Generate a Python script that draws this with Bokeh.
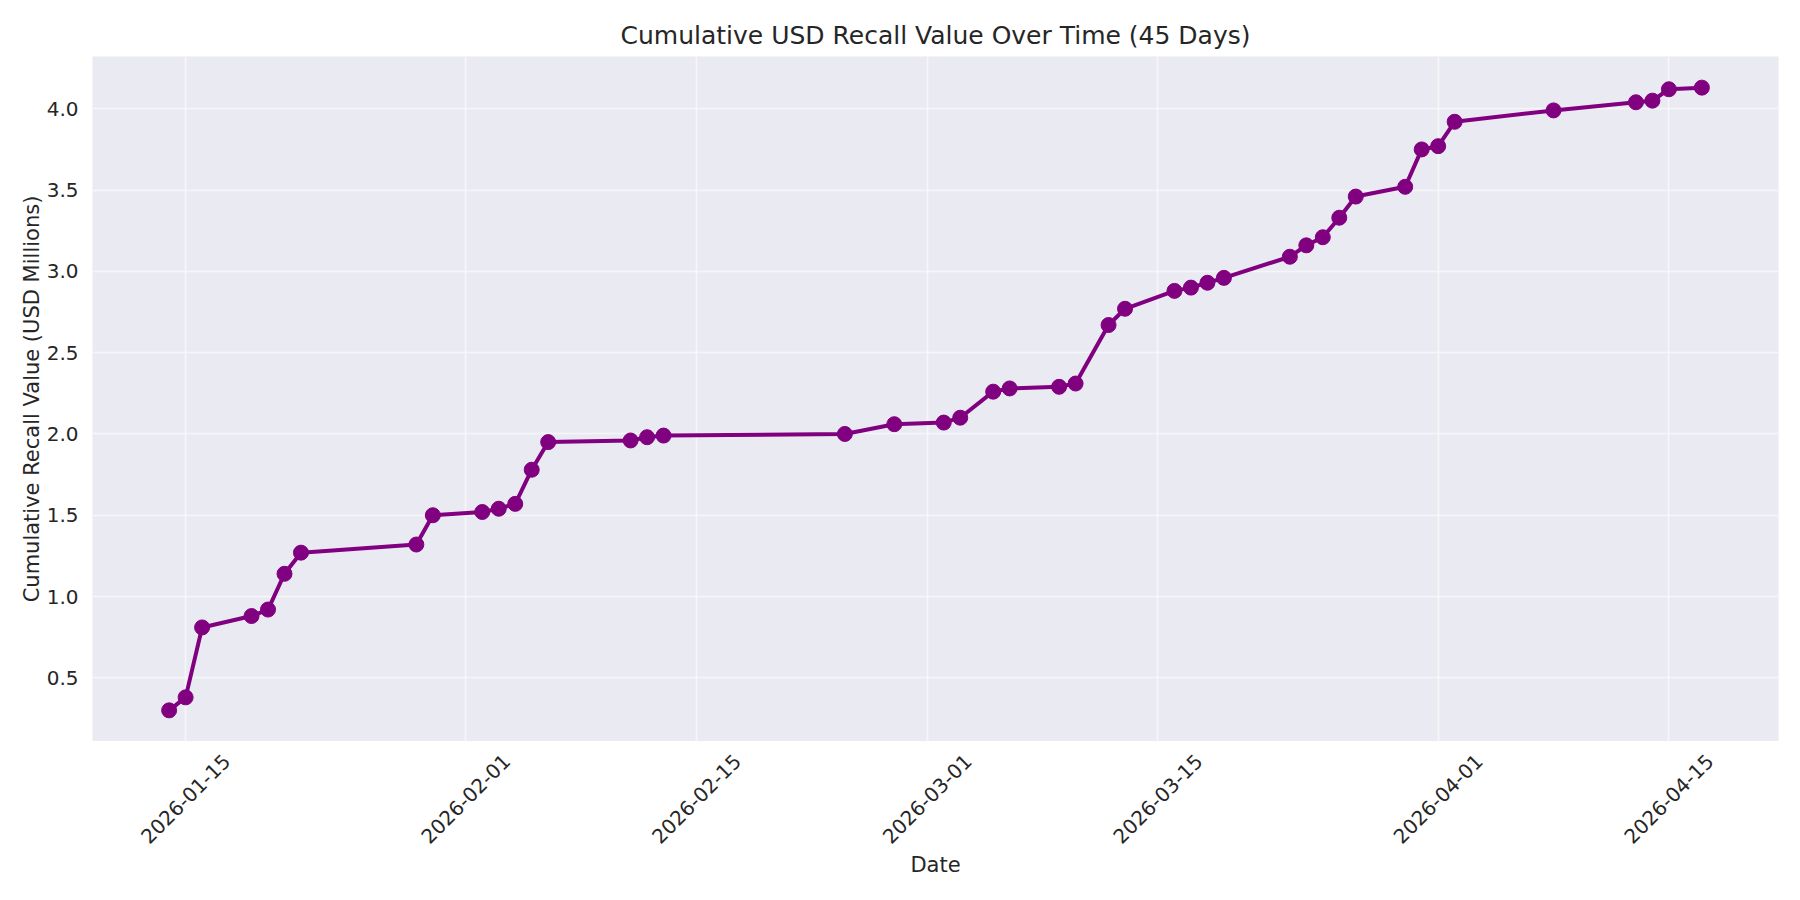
import math
from datetime import datetime
from bokeh.plotting import figure
from bokeh.layouts import column
from bokeh.models import (FixedTicker, Range1d, ColumnDataSource, NumeralTickFormatter)
from bokeh.core.properties import value
from bokeh.embed import file_html
from bokeh.resources import INLINE

# ---- data ----
dates = [
    "2026-01-14", "2026-01-15", "2026-01-16", "2026-01-19", "2026-01-20",
    "2026-01-21", "2026-01-22", "2026-01-29", "2026-01-30", "2026-02-02",
    "2026-02-03", "2026-02-04", "2026-02-05", "2026-02-06", "2026-02-11",
    "2026-02-12", "2026-02-13", "2026-02-24", "2026-02-27", "2026-03-02",
    "2026-03-03", "2026-03-05", "2026-03-06", "2026-03-09", "2026-03-10",
    "2026-03-12", "2026-03-13", "2026-03-16", "2026-03-17", "2026-03-18",
    "2026-03-19", "2026-03-23", "2026-03-24", "2026-03-25", "2026-03-26",
    "2026-03-27", "2026-03-30", "2026-03-31", "2026-04-01", "2026-04-02",
    "2026-04-08", "2026-04-13", "2026-04-14", "2026-04-15", "2026-04-17",
]
cumulative_musd = [
    0.30, 0.38, 0.81, 0.88, 0.92,
    1.14, 1.27, 1.32, 1.50, 1.52,
    1.54, 1.57, 1.78, 1.95, 1.96,
    1.98, 1.99, 2.00, 2.06, 2.07,
    2.10, 2.26, 2.28, 2.29, 2.31,
    2.67, 2.77, 2.88, 2.90, 2.93,
    2.96, 3.09, 3.16, 3.21, 3.33,
    3.46, 3.52, 3.75, 3.77, 3.92,
    3.99, 4.04, 4.05, 4.12, 4.13,
]
x_tick_labels = ["2026-01-15", "2026-02-01", "2026-02-15", "2026-03-01",
                 "2026-03-15", "2026-04-01", "2026-04-15"]
y_ticks = [0.5, 1.0, 1.5, 2.0, 2.5, 3.0, 3.5, 4.0]

title_text = "Cumulative USD Recall Value Over Time (45 Days)"
x_label = "Date"
y_label = "Cumulative Recall Value (USD Millions)"

# ---- build ----
EPOCH = datetime(1970, 1, 1)


def to_ms(s):
    return (datetime.strptime(s, "%Y-%m-%d") - EPOCH).total_seconds() * 1000.0


xs = [to_ms(d) for d in dates]
src = ColumnDataSource(dict(x=xs, y=cumulative_musd))

x_min, x_max = min(xs), max(xs)
x_pad = (x_max - x_min) * 0.05
y_min, y_max = min(cumulative_musd), max(cumulative_musd)
y_pad = (y_max - y_min) * 0.05
x_lo, x_hi = x_min - x_pad, x_max + x_pad
y_lo, y_hi = y_min - y_pad, y_max + y_pad

FONT = "DejaVu Sans"
TXT = "#262626"
PURPLE = "#800080"

W = 1784
TOP_H = 741
BOTTOM_H = 143

x_range = Range1d(x_lo, x_hi)

p = figure(
    width=W, height=TOP_H,
    x_range=x_range,
    y_range=Range1d(y_lo, y_hi),
    output_backend="svg", toolbar_location=None,
    min_border_left=92, min_border_right=6, min_border_top=56, min_border_bottom=0,
)

p.title.text = title_text
p.title.align = "center"
p.title.text_font = FONT
p.title.text_font_size = "25px"
p.title.text_font_style = "normal"
p.title.text_color = TXT
p.title.standoff = 14

p.background_fill_color = "#EAEAF2"
p.border_fill_color = "white"
p.outline_line_color = None

tick_ms = [to_ms(t) for t in x_tick_labels]

# y axis
p.yaxis.ticker = FixedTicker(ticks=y_ticks)
p.yaxis.formatter = NumeralTickFormatter(format="0.0")
p.yaxis.axis_line_color = None
p.yaxis.major_tick_line_color = None
p.yaxis.minor_tick_line_color = None
p.yaxis.major_label_text_font = FONT
p.yaxis.major_label_text_font_size = "20px"
p.yaxis.major_label_text_color = TXT
p.yaxis.axis_label = y_label
p.yaxis.axis_label_text_font = FONT
p.yaxis.axis_label_text_font_size = "21px"
p.yaxis.axis_label_text_font_style = "normal"
p.yaxis.axis_label_text_color = TXT
p.yaxis.major_label_standoff = 8
p.yaxis.axis_label_standoff = 0

p.xaxis.visible = False

p.grid.grid_line_color = "white"
p.grid.grid_line_alpha = 0.55
p.grid.grid_line_width = 1.7
p.xgrid.ticker = FixedTicker(ticks=tick_ms)
p.ygrid.ticker = FixedTicker(ticks=y_ticks)

p.line("x", "y", source=src, line_color=PURPLE, line_width=4)
p.scatter("x", "y", source=src, size=15, fill_color=PURPLE, line_color=PURPLE)

# ---- x axis strip: matplotlib-style centred, 45-degree date labels + axis title ----
q = figure(
    width=W, height=BOTTOM_H,
    x_range=x_range, y_range=Range1d(BOTTOM_H, 0),
    output_backend="svg", toolbar_location=None,
    x_axis_location=None, y_axis_location=None,
    min_border_left=92, min_border_right=6, min_border_top=0, min_border_bottom=0,
)
q.outline_line_color = None
q.background_fill_color = "white"
q.border_fill_color = "white"
q.grid.visible = False

tick_src = ColumnDataSource(dict(x=tick_ms, y=[57.5] * len(tick_ms), text=x_tick_labels))
q.text("x", "y", text="text", source=tick_src, angle=math.pi / 4,
       text_align="center", text_baseline="middle",
       text_font=value(FONT), text_font_size=value("20px"), text_color=TXT)

lab_src = ColumnDataSource(dict(x=[(x_lo + x_hi) / 2], y=[123], text=[x_label]))
q.text("x", "y", text="text", source=lab_src,
       text_align="center", text_baseline="middle",
       text_font=value(FONT), text_font_size=value("21px"), text_color=TXT)

layout = column(p, q, spacing=0)
open("out.html", "w").write(file_html(layout, INLINE))
